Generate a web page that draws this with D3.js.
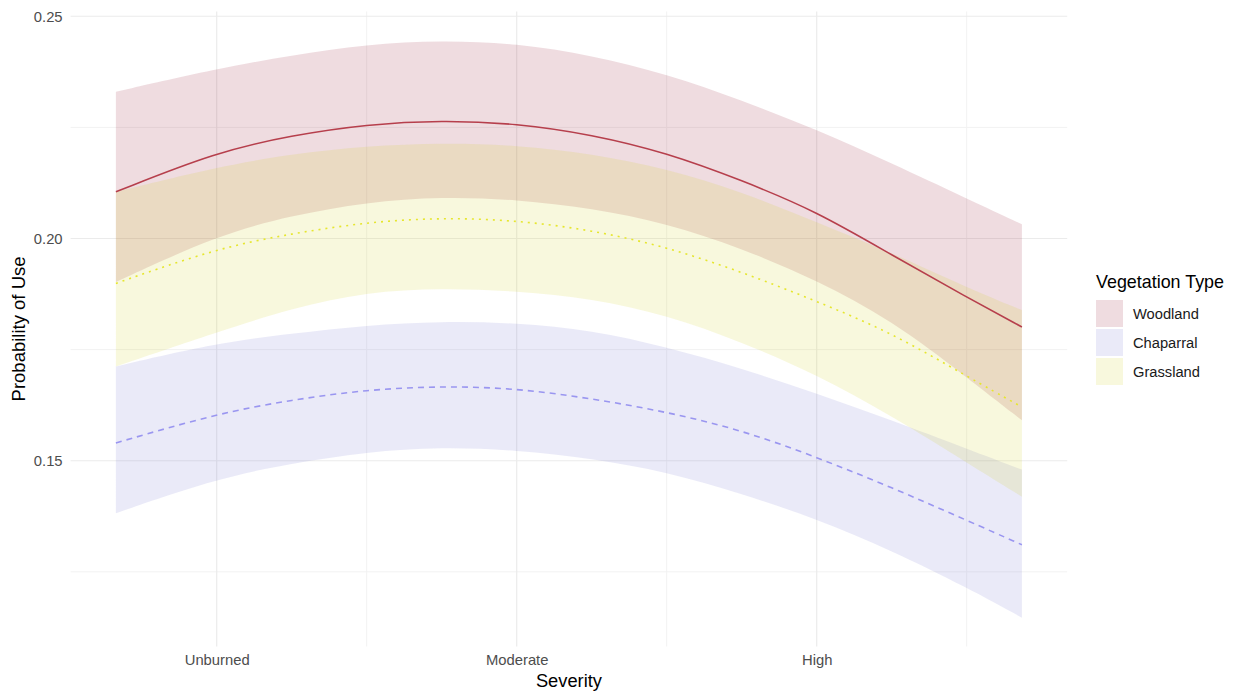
<!DOCTYPE html>
<html>
<head>
<meta charset="utf-8">
<script src="https://cdn.jsdelivr.net/npm/d3@7"></script>
<style>
  body { margin: 0; background: #fff; }
  text { font-family: "Liberation Sans", Arial, sans-serif; }
</style>
</head>
<body>
<div id="chart"></div>
<script>
// severity on a numeric scale (1 = Unburned, 2 = Moderate, 3 = High)
const severity = [0.664, 1, 1.25, 1.5, 1.75, 2, 2.25, 2.5, 2.75, 3, 3.25, 3.5, 3.684];

const severityTicks = [1, 2, 3];
const severityLabels = ["Unburned", "Moderate", "High"];
const probTicks = [0.15, 0.20, 0.25];

const vegTypes = ["Woodland", "Chaparral", "Grassland"];

const woodlandFit   = [0.2105, 0.2195, 0.2232, 0.2257, 0.2266, 0.2259, 0.2234, 0.2193, 0.2131, 0.2061, 0.1963, 0.1868, 0.1801];
const woodlandUpper = [0.2330, 0.2382, 0.2412, 0.2437, 0.2446, 0.2439, 0.2412, 0.2370, 0.2311, 0.2245, 0.2169, 0.2090, 0.2032];
const woodlandLower = [0.1902, 0.2007, 0.2052, 0.2082, 0.2094, 0.2088, 0.2068, 0.2034, 0.1978, 0.1906, 0.1816, 0.1688, 0.1591];

const chaparralFit   = [0.1540, 0.1606, 0.1637, 0.1660, 0.1668, 0.1663, 0.1640, 0.1610, 0.1569, 0.1508, 0.1440, 0.1366, 0.1311];
const chaparralUpper = [0.1712, 0.1765, 0.1786, 0.1805, 0.1814, 0.1810, 0.1794, 0.1756, 0.1708, 0.1651, 0.1591, 0.1527, 0.1480];
const chaparralLower = [0.1382, 0.1460, 0.1494, 0.1520, 0.1531, 0.1524, 0.1505, 0.1475, 0.1426, 0.1369, 0.1298, 0.1215, 0.1147];

const grasslandFit   = [0.1899, 0.1978, 0.2011, 0.2037, 0.2047, 0.2041, 0.2019, 0.1981, 0.1925, 0.1859, 0.1788, 0.1690, 0.1621];
const grasslandUpper = [0.2105, 0.2161, 0.2190, 0.2208, 0.2215, 0.2210, 0.2191, 0.2157, 0.2105, 0.2037, 0.1968, 0.1890, 0.1839];
const grasslandLower = [0.1712, 0.1789, 0.1843, 0.1880, 0.1888, 0.1882, 0.1865, 0.1828, 0.1767, 0.1694, 0.1601, 0.1496, 0.1419];

function init() {
    const series = [
        {name: "Woodland",  fit: woodlandFit,  lo: woodlandLower,  hi: woodlandUpper,
         line: "#b63f4c", fill: "rgba(150,20,45,0.15)", dash: null},
        {name: "Chaparral", fit: chaparralFit, lo: chaparralLower, hi: chaparralUpper,
         line: "#9a96f0", fill: "rgba(115,115,208,0.15)", dash: "6,5"},
        {name: "Grassland", fit: grasslandFit, lo: grasslandLower, hi: grasslandUpper,
         line: "#e6e62e", fill: "rgba(205,205,30,0.15)", dash: "2,5"}
    ];
    series.forEach(s => {
        s.points = severity.map((x, i) => ({x: x, fit: s.fit[i], lo: s.lo[i], hi: s.hi[i]}));
    });
    drawChart(series);
}

function drawChart(series) {
    const width = 1242, height = 692;
    const left = 70.6, top = 11.4, plotW = 996.6, plotH = 635.1;

    const svg = d3.select("#chart").append("svg")
        .attr("width", width)
        .attr("height", height);

    // ggplot style 5% expansion
    const xExt = d3.extent(severity);
    const xPad = (xExt[1] - xExt[0]) * 0.05;
    const x = d3.scaleLinear()
        .domain([xExt[0] - xPad, xExt[1] + xPad])
        .range([left, left + plotW]);

    const allY = series.flatMap(s => s.lo.concat(s.hi));
    const yExt = d3.extent(allY);
    const yPad = (yExt[1] - yExt[0]) * 0.05;
    const y = d3.scaleLinear()
        .domain([yExt[0] - yPad, yExt[1] + yPad])
        .range([top + plotH, top]);

    // grid
    const grid = svg.append("g");
    const minorX = [0.5, 1.5, 2.5, 3.5].filter(v => x(v) >= left);
    const minorY = [0.125, 0.175, 0.225];
    grid.selectAll("line.minx").data(minorX).enter().append("line")
        .attr("x1", d => x(d)).attr("x2", d => x(d))
        .attr("y1", top).attr("y2", top + plotH)
        .attr("stroke", "#f2f2f2").attr("stroke-width", 1);
    grid.selectAll("line.miny").data(minorY).enter().append("line")
        .attr("x1", left).attr("x2", left + plotW)
        .attr("y1", d => y(d)).attr("y2", d => y(d))
        .attr("stroke", "#f2f2f2").attr("stroke-width", 1);
    grid.selectAll("line.majx").data(severityTicks).enter().append("line")
        .attr("x1", d => x(d)).attr("x2", d => x(d))
        .attr("y1", top).attr("y2", top + plotH)
        .attr("stroke", "#ebebeb").attr("stroke-width", 1.2);
    grid.selectAll("line.majy").data(probTicks).enter().append("line")
        .attr("x1", left).attr("x2", left + plotW)
        .attr("y1", d => y(d)).attr("y2", d => y(d))
        .attr("stroke", "#ebebeb").attr("stroke-width", 1.2);

    // ribbons
    const area = d3.area()
        .x(d => x(d.x))
        .y0(d => y(d.lo))
        .y1(d => y(d.hi))
        .curve(d3.curveBasis);

    svg.append("g").selectAll("path")
        .data(series)
        .enter().append("path")
        .attr("d", d => area(d.points))
        .attr("fill", d => d.fill);

    // fitted lines
    const line = d3.line()
        .x(d => x(d.x))
        .y(d => y(d.fit))
        .curve(d3.curveBasis);

    svg.append("g").selectAll("path")
        .data(series)
        .enter().append("path")
        .attr("d", d => line(d.points))
        .attr("fill", "none")
        .attr("stroke", d => d.line)
        .attr("stroke-width", 1.6)
        .attr("stroke-dasharray", d => d.dash);

    // axes (no domain / ticks, theme_minimal look)
    const xAxis = svg.append("g")
        .attr("transform", `translate(0, ${top + plotH})`)
        .call(d3.axisBottom(x).tickValues(severityTicks)
            .tickFormat((d, i) => severityLabels[i]).tickSize(0).tickPadding(8));
    xAxis.select(".domain").remove();
    xAxis.selectAll("text").attr("fill", "#4d4d4d").style("font-size", "14.8px");

    const yAxis = svg.append("g")
        .attr("transform", `translate(${left}, 0)`)
        .call(d3.axisLeft(y).tickValues(probTicks)
            .tickFormat(d3.format(".2f")).tickSize(0).tickPadding(8));
    yAxis.select(".domain").remove();
    yAxis.selectAll("text").attr("fill", "#4d4d4d").style("font-size", "14.8px");

    svg.append("text")
        .attr("x", left + plotW / 2).attr("y", 687)
        .attr("text-anchor", "middle")
        .style("font-size", "18.3px")
        .text("Severity");

    svg.append("text")
        .attr("transform", `translate(25, ${top + plotH / 2}) rotate(-90)`)
        .attr("text-anchor", "middle")
        .style("font-size", "18.5px")
        .text("Probability of Use");

    // legend
    const legend = svg.append("g").attr("transform", "translate(1096, 0)");
    legend.append("text")
        .attr("x", 0).attr("y", 288)
        .style("font-size", "17.9px")
        .text("Vegetation Type");

    const items = legend.selectAll("g.item")
        .data(series)
        .enter().append("g")
        .attr("transform", (d, i) => `translate(0, ${300 + i * 29})`);
    items.append("rect")
        .attr("width", 27).attr("height", 27)
        .attr("fill", d => d.fill);
    items.append("text")
        .attr("x", 37).attr("y", 18.5)
        .style("font-size", "14.7px")
        .attr("fill", "#1a1a1a")
        .text(d => d.name);
}

init();
</script>
</body>
</html>
